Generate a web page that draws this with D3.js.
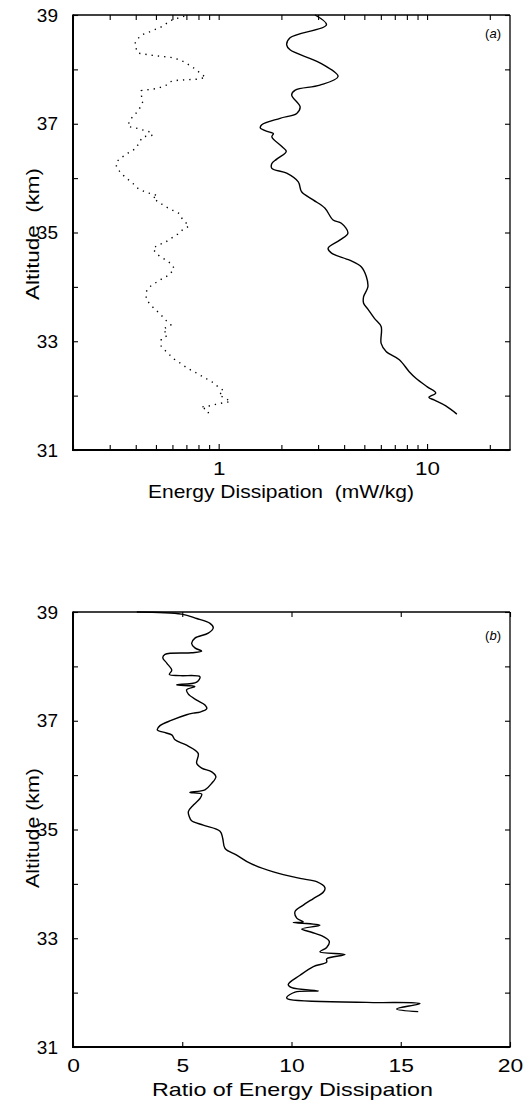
<!DOCTYPE html>
<html>
<head>
<meta charset="utf-8">
<script src="https://cdn.jsdelivr.net/npm/d3@7"></script>
<style>
  html, body { margin: 0; padding: 0; background: #fff; }
  text { font-family: "Liberation Sans", Arial, Helvetica, sans-serif; fill: #000; white-space: pre; }
</style>
</head>
<body>
<script>
// ---------- DATA ----------
// Panel (a): energy dissipation (mW/kg) vs altitude (km)
const altSolidA = [39.00,38.82,38.58,38.45,38.36,38.12,37.87,37.71,37.62,37.53,37.31,37.19,37.10,36.98,36.92,36.85,36.82,36.76,36.58,36.49,36.35,36.27,36.18,36.09,35.93,35.75,35.60,35.45,35.23,35.17,34.99,34.86,34.71,34.62,34.49,34.37,34.19,34.00,33.82,33.70,33.59,33.42,33.27,32.96,32.81,32.66,32.44,32.32,32.16,32.05,31.97,31.92,31.81,31.66];
const valSolidA = [2.90,3.29,2.20,2.12,2.20,3.06,3.74,3.06,2.33,2.24,2.46,2.37,1.97,1.61,1.585,1.74,1.83,1.80,2.01,2.11,1.90,1.80,1.80,2.12,2.41,2.50,2.84,3.23,3.54,3.88,4.17,3.81,3.35,3.48,4.25,4.83,5.11,5.20,4.96,4.96,5.20,5.59,6.02,6.02,6.36,7.36,8.21,8.84,10.03,11.0,10.2,10.8,12.3,13.9];

const altDotA = [38.98,38.90,38.78,38.69,38.63,38.51,38.42,38.30,38.26,38.22,38.17,38.08,38.02,37.85,37.82,37.80,37.77,37.71,37.65,37.61,37.53,37.41,37.28,37.16,37.07,36.95,36.92,36.85,36.79,36.76,36.67,36.55,36.46,36.38,36.30,36.20,36.08,36.00,35.90,35.81,35.75,35.71,35.68,35.63,35.55,35.47,35.41,35.35,35.24,35.12,35.05,34.97,34.89,34.81,34.77,34.70,34.59,34.51,34.43,34.34,34.22,34.16,34.08,34.00,33.91,33.77,33.67,33.57,33.48,33.38,33.30,33.22,33.11,33.04,32.91,32.81,32.67,32.59,32.50,32.44,32.37,32.30,32.23,32.15,32.09,32.01,31.95,31.89,31.87,31.84,31.81,31.79,31.74,31.64];
const valDotA = [0.684,0.59,0.53,0.466,0.425,0.398,0.398,0.41,0.475,0.59,0.659,0.722,0.763,0.867,0.79,0.636,0.58,0.56,0.51,0.425,0.425,0.433,0.417,0.395,0.374,0.367,0.402,0.466,0.483,0.433,0.417,0.402,0.367,0.342,0.323,0.323,0.342,0.361,0.388,0.41,0.441,0.475,0.51,0.483,0.52,0.56,0.60,0.647,0.671,0.722,0.671,0.636,0.59,0.549,0.51,0.483,0.51,0.549,0.59,0.612,0.58,0.54,0.501,0.466,0.449,0.449,0.471,0.501,0.53,0.56,0.59,0.54,0.57,0.53,0.53,0.56,0.612,0.659,0.71,0.763,0.82,0.884,0.95,1.0,1.06,1.0,1.08,1.14,1.06,0.968,0.90,0.82,0.884,0.90];

// Panel (b): ratio of energy dissipation vs altitude (km)
const altB = [39.00,38.96,38.88,38.79,38.71,38.61,38.52,38.42,38.34,38.28,38.25,38.22,38.16,38.06,37.93,37.85,37.83,37.81,37.71,37.66,37.63,37.57,37.49,37.38,37.29,37.22,37.16,37.14,37.11,37.01,36.91,36.83,36.79,36.74,36.65,36.55,36.40,36.22,36.13,36.06,35.97,35.85,35.73,35.68,35.65,35.57,35.45,35.33,35.24,35.16,35.08,34.97,34.84,34.65,34.53,34.38,34.22,34.10,34.04,33.93,33.85,33.73,33.61,33.49,33.37,33.30,33.29,33.24,33.17,33.11,33.03,32.94,32.83,32.75,32.70,32.62,32.56,32.48,32.32,32.15,32.09,32.03,32.01,31.91,31.88,31.82,31.80,31.70,31.65];
const ratioB = [2.92,4.97,5.66,6.27,6.42,6.19,5.58,5.43,5.58,5.89,5.43,4.21,4.11,4.29,4.52,4.41,4.90,5.81,5.66,4.75,5.58,5.20,5.28,5.66,6.04,6.12,5.81,5.51,5.20,4.52,3.98,3.86,4.13,4.52,4.67,5.20,5.73,5.66,5.89,6.35,6.54,6.35,6.04,5.35,5.89,5.81,5.51,5.28,5.32,5.43,5.96,6.73,6.85,6.96,7.49,8.10,9.17,10.39,11.15,11.53,11.46,11.00,10.54,10.16,10.24,10.54,10.08,11.30,10.47,10.92,11.46,11.73,11.61,11.30,12.45,11.61,11.61,11.00,10.39,9.85,10.01,11.23,10.16,9.78,9.85,13.44,15.88,14.81,15.80];

// Tick labels
const altTicks = [31,32,33,34,35,36,37,38,39];
const altLabels = ["31","","33","","35","","37","","39"];
const logTicksA = [0.2,0.3,0.4,0.5,0.6,0.7,0.8,0.9,1,2,3,4,5,6,7,8,9,10,20];
const logLabelsA = {1:"1", 10:"10"};
const ratioTicks = [0,5,10,15,20];

// ---------- LAYOUT ----------
const W = 531, H = 1104;
const L = 73, R = 510;
const A = {top: 15, bottom: 450};
const B = {top: 612, bottom: 1047};

const svg = d3.select("body").append("svg").attr("width", W).attr("height", H);

const xA = d3.scaleLog().domain([0.2, 25]).range([L, R]);
const yA = d3.scaleLinear().domain([31, 39]).range([A.bottom, A.top]);
const xB = d3.scaleLinear().domain([0, 20]).range([L, R]);
const yB = d3.scaleLinear().domain([31, 39]).range([B.bottom, B.top]);

const fs = 19;

function styleAxis(g) {
  g.selectAll(".domain").remove();
  g.selectAll(".tick line").attr("stroke", "#000").attr("stroke-width", 1.1);
  g.selectAll(".tick text").attr("font-size", fs).attr("font-family", "Liberation Sans, Arial, sans-serif").attr("fill", "#000");
}

function drawFrame(top, bottom) {
  const f = svg.append("g").attr("stroke", "#000").attr("fill", "none");
  f.append("line").attr("x1", L).attr("x2", R).attr("y1", top).attr("y2", top).attr("stroke-width", 1.3);
  f.append("line").attr("x1", R).attr("x2", R).attr("y1", top).attr("y2", bottom).attr("stroke-width", 1.3);
  f.append("line").attr("x1", L).attr("x2", L).attr("y1", top - 0.6).attr("y2", bottom + 1).attr("stroke-width", 2);
  f.append("line").attr("x1", L - 1).attr("x2", R + 0.6).attr("y1", bottom).attr("y2", bottom).attr("stroke-width", 2);
}

function yAxes(y) {
  const fmt = v => altLabels[altTicks.indexOf(v)];
  svg.append("g").attr("transform", `translate(${L},0)`)
    .call(d3.axisLeft(y).tickValues(altTicks).tickFormat(fmt).tickSize(-5).tickPadding(15))
    .call(styleAxis);
  svg.append("g").attr("transform", `translate(${R},0)`)
    .call(d3.axisRight(y).tickValues(altTicks).tickFormat("").tickSize(-5))
    .call(styleAxis);
}

function stretchX(g, s) {
  g.selectAll(".tick text").attr("transform", `scale(${s},1)`);
}

// ---------- PANEL (a) ----------
drawFrame(A.top, A.bottom);
yAxes(yA);
const fmtLog = v => logLabelsA[v] || "";
const isMajor = v => v === 1 || v === 10;
svg.append("g").attr("transform", `translate(0,${A.bottom})`)
  .call(d3.axisBottom(xA).tickValues(logTicksA).tickFormat(fmtLog).tickSize(-5).tickPadding(12))
  .call(styleAxis)
  .call(g => g.selectAll(".tick line").attr("y2", d => isMajor(d) ? -6 : -5))
  .call(g => stretchX(g, 1.18));
svg.append("g").attr("transform", `translate(0,${A.top})`)
  .call(d3.axisTop(xA).tickValues(logTicksA).tickFormat("").tickSize(-5))
  .call(styleAxis);

const lineA = d3.line().x(d => xA(d[1])).y(d => yA(d[0])).curve(d3.curveCatmullRom.alpha(0.5));
const solidA = altSolidA.map((a, i) => [a, valSolidA[i]]);
const dotA = altDotA.map((a, i) => [a, valDotA[i]]);
svg.append("path").datum(solidA).attr("d", lineA)
  .attr("fill", "none").attr("stroke", "#000").attr("stroke-width", 1.4);
svg.append("path").datum(dotA).attr("d", d3.line().x(d => xA(d[1])).y(d => yA(d[0])))
  .attr("fill", "none").attr("stroke", "#000").attr("stroke-width", 1.4)
  .attr("stroke-dasharray", "1.3,5");

svg.append("text").attr("x", 501).attr("y", 38).attr("text-anchor", "end").attr("font-size", 13)
  .html('(<tspan font-style="italic">a</tspan>)');

svg.append("text").attr("x", 148).attr("y", 498).attr("text-anchor", "start")
  .attr("font-size", fs).attr("textLength", 266).attr("lengthAdjust", "spacingAndGlyphs")
  .text("Energy Dissipation  (mW/kg)");
svg.append("text").attr("transform", `translate(39,300) rotate(-90)`)
  .attr("text-anchor", "start").attr("font-size", fs)
  .attr("textLength", 132).attr("lengthAdjust", "spacingAndGlyphs").text("Altitude  (km)");

// ---------- PANEL (b) ----------
drawFrame(B.top, B.bottom);
yAxes(yB);
svg.append("g").attr("transform", `translate(0,${B.bottom})`)
  .call(d3.axisBottom(xB).tickValues(ratioTicks).tickFormat(d3.format("d")).tickSize(-5).tickPadding(12))
  .call(styleAxis)
  .call(g => stretchX(g, 1.2));
svg.append("g").attr("transform", `translate(0,${B.top})`)
  .call(d3.axisTop(xB).tickValues(ratioTicks).tickFormat("").tickSize(-5))
  .call(styleAxis);

const dataB = altB.map((a, i) => [a, ratioB[i]]);
svg.append("path").datum(dataB)
  .attr("d", d3.line().x(d => xB(d[1])).y(d => yB(d[0])).curve(d3.curveCatmullRom.alpha(0.5)))
  .attr("fill", "none").attr("stroke", "#000").attr("stroke-width", 1.4);

svg.append("text").attr("x", 501).attr("y", 640).attr("text-anchor", "end").attr("font-size", 13)
  .html('(<tspan font-style="italic">b</tspan>)');

svg.append("text").attr("x", 152).attr("y", 1096).attr("text-anchor", "start")
  .attr("font-size", fs).attr("textLength", 281).attr("lengthAdjust", "spacingAndGlyphs")
  .text("Ratio of Energy Dissipation");
svg.append("text").attr("transform", `translate(39,888) rotate(-90)`)
  .attr("text-anchor", "start").attr("font-size", fs)
  .attr("textLength", 120).attr("lengthAdjust", "spacingAndGlyphs").text("Altitude (km)");
</script>
</body>
</html>
